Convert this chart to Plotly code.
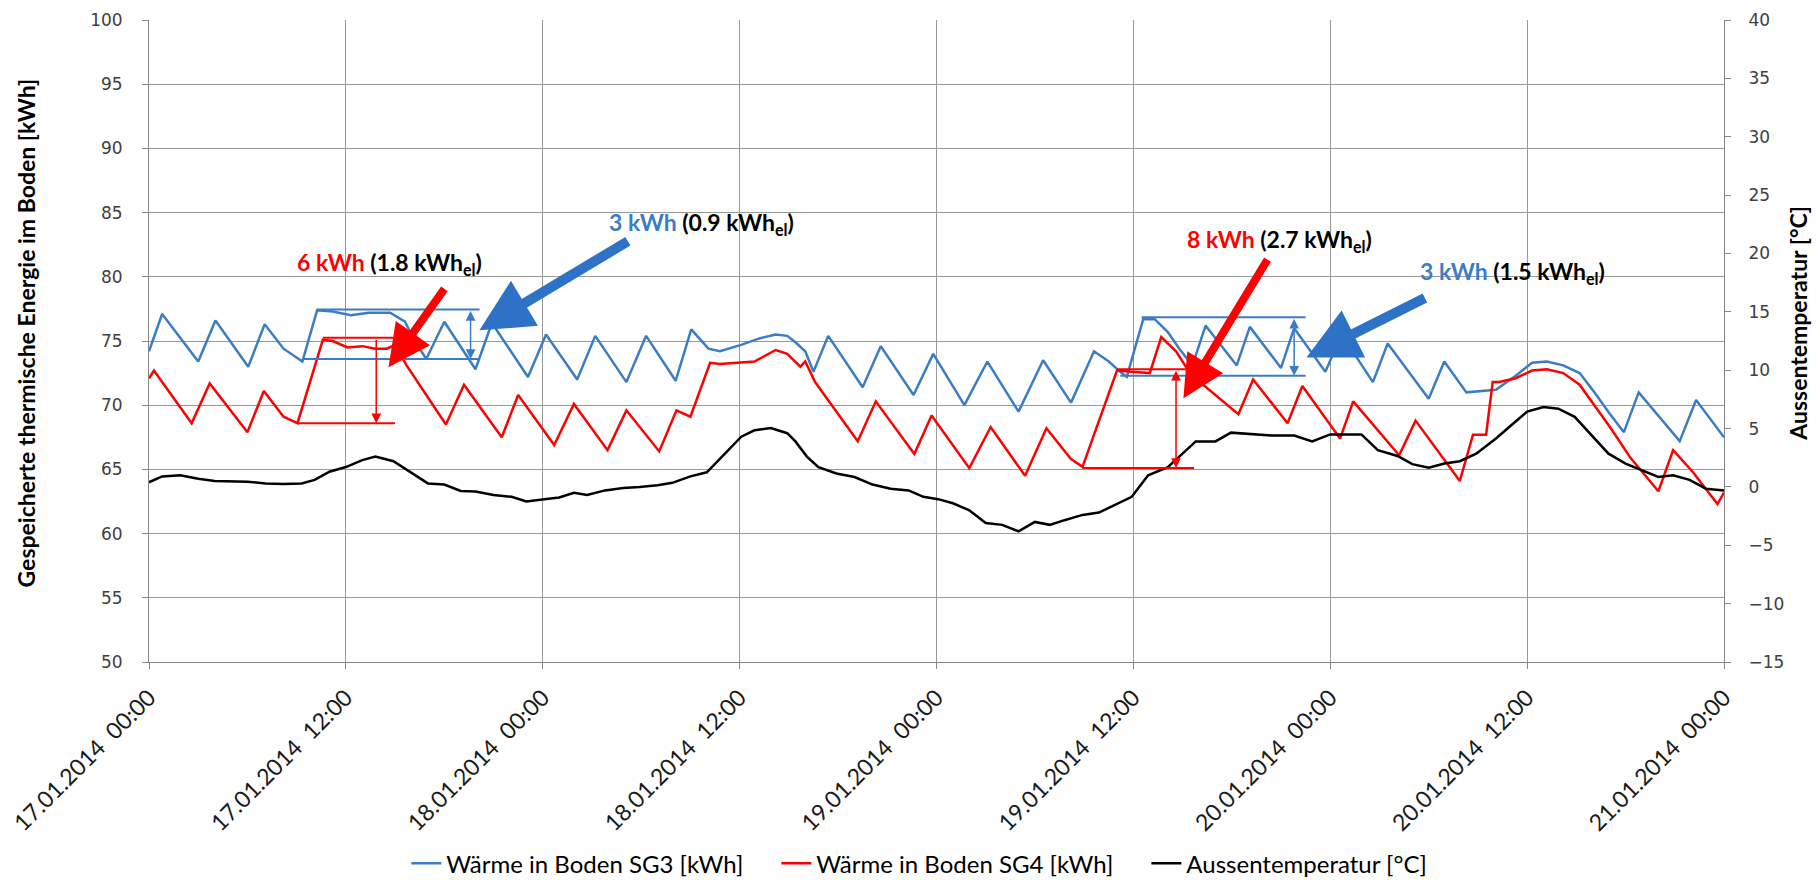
import pandas as pd
import plotly.graph_objects as go

START = pd.Timestamp("2014-01-17 00:00")

# Wärme in Boden SG3 [kWh]: hours since 17.01.2014 00:00 and stored energy
sg3_hours = [0, 0.8, 3.0, 4.05, 6.05, 7.05, 8.2, 9.35, 10.25, 11.2, 12.3, 13.4, 14.7,
             15.6, 16.2, 16.9, 18.0, 19.9, 20.9, 23.1, 24.2, 26.1, 27.2, 29.1, 30.3,
             32.1, 33.05, 34.1, 34.8, 36.1, 37.2, 38.2, 38.9, 39.4, 40.0, 40.5, 41.4,
             43.5, 44.6, 46.6, 47.8, 49.7, 51.1, 53.0, 54.5, 56.2, 57.6, 58.5, 59.2,
             59.6, 60.6, 61.3, 62.1, 62.8, 63.6, 64.4, 66.3, 67.1, 69.0, 69.8, 71.7,
             72.7, 74.6, 75.5, 78.0, 78.95, 80.3, 81.1, 82.1, 83.3, 84.3, 85.2, 86.2,
             87.2, 88.1, 89.0, 89.9, 90.8, 93.3, 94.3, 96.0]
sg3_kwh = [74.2, 77.1, 73.4, 76.6, 73.0, 76.3, 74.4, 73.4, 77.4, 77.3, 77.0, 77.2, 77.2,
           76.5, 75.0, 73.6, 76.5, 72.8, 76.4, 72.2, 75.5, 72.0, 75.4, 71.8, 75.4,
           71.9, 75.9, 74.4, 74.2, 74.7, 75.2, 75.5, 75.4, 74.9, 74.2, 72.6, 75.4,
           71.4, 74.6, 70.8, 74.0, 70.0, 73.4, 69.5, 73.5, 70.2, 74.2, 73.4, 72.6,
           72.2, 76.7, 76.7, 75.7, 74.4, 73.1, 76.2, 73.1, 76.1, 72.9, 76.0, 72.6,
           75.5, 71.8, 74.8, 70.5, 73.4, 71.0, 71.1, 71.2, 72.3, 73.3, 73.4, 73.1,
           72.5, 71.0, 69.4, 67.9, 71.0, 67.2, 70.4, 67.5]

# Wärme in Boden SG4 [kWh]
sg4_hours = [0, 0.3, 2.6, 3.7, 6.0, 7.0, 8.2, 9.05, 10.6, 11.2, 12.1, 13.0, 13.8, 14.5,
             15.0, 15.7, 18.1, 19.2, 21.5, 22.5, 24.7, 25.9, 27.95, 29.1, 31.1, 32.15,
             33.0, 34.2, 34.8, 35.8, 36.9, 38.2, 38.9, 39.7, 40.0, 40.6, 43.2, 44.3,
             46.65, 47.7, 50.0, 51.3, 53.4, 54.7, 56.2, 56.9, 59.0, 59.9, 61.0, 61.7,
             62.6, 63.5, 66.4, 67.3, 69.4, 70.3, 72.6, 73.4, 76.2, 77.2, 79.9, 80.7,
             81.5, 81.9, 82.3, 83.3, 84.3, 85.2, 86.2, 87.2, 88.1, 89.1, 90.3, 92.0,
             92.9, 94.1, 95.6, 96.0]
sg4_kwh = [72.1, 72.7, 68.6, 71.7, 67.9, 71.1, 69.1, 68.6, 75.1, 75.0, 74.5, 74.6, 74.4, 74.4,
           74.7, 73.1, 68.5, 71.6, 67.5, 70.8, 66.9, 70.1, 66.5, 69.6, 66.4, 69.6,
           69.1, 73.3, 73.2, 73.3, 73.4, 74.3, 74.0, 73.0, 73.4, 71.8, 67.2, 70.3,
           66.2, 69.2, 65.1, 68.3, 64.5, 68.2, 65.8, 65.2, 72.7, 72.6, 72.5, 75.3,
           74.2, 72.4, 69.3, 72.0, 68.6, 71.5, 67.4, 70.3, 66.1, 68.8, 64.1, 67.7,
           67.7, 71.8, 71.8, 72.1, 72.7, 72.8, 72.5, 71.6, 70.0, 68.2, 65.9, 63.3,
           66.5, 64.8, 62.3, 63.2]

# Aussentemperatur [°C]
temp_hours = [0, 0.8, 1.9, 3.0, 4.0, 6.0, 7.1, 8.2, 9.3, 10.1, 11.0, 12.0, 13.0, 13.8,
              14.9, 16.0, 17.0, 18.0, 19.0, 19.9, 21.0, 22.1, 23.0, 24.1, 25.0, 25.9,
              26.7, 27.8, 28.9, 29.9, 31.0, 31.9, 33.0, 34.0, 35.0, 36.1, 36.9, 37.9,
              38.9, 39.4, 40.1, 40.8, 41.9, 43.0, 44.1, 45.2, 46.3, 47.2, 48.1, 49.0,
              50.0, 51.0, 52.0, 53.0, 54.0, 54.9, 55.8, 56.9, 57.9, 58.9, 59.9, 60.9,
              62.1, 63.8, 65.0, 65.95, 67.2, 68.4, 69.8, 70.9, 72.0, 72.9, 73.9, 74.9,
              76.1, 77.0, 78.0, 78.96, 79.9, 80.9, 82.1, 83.3, 84.0, 85.0, 85.9, 86.9,
              87.9, 88.96, 90.0, 91.0, 92.0, 92.9, 93.9, 94.9, 96.0]
temp_c = [0.4, 0.9, 1.0, 0.7, 0.5, 0.45, 0.3, 0.25, 0.3, 0.6, 1.3, 1.7, 2.3, 2.6,
          2.2, 1.2, 0.3, 0.2, -0.35, -0.4, -0.7, -0.85, -1.25, -1.05, -0.9, -0.5,
          -0.7, -0.3, -0.1, 0.0, 0.15, 0.35, 0.9, 1.25, 2.7, 4.3, 4.85, 5.05,
          4.6, 3.9, 2.6, 1.7, 1.15, 0.85, 0.2, -0.15, -0.3, -0.85, -1.05, -1.4,
          -2.0, -3.1, -3.25, -3.8, -3.0, -3.25, -2.85, -2.4, -2.2, -1.55, -0.85, 1.0,
          1.7, 3.9, 3.9, 4.65, 4.5, 4.4, 4.4, 3.9, 4.5, 4.5, 4.5, 3.15,
          2.65, 1.95, 1.65, 2.0, 2.2, 2.85, 4.15, 5.6, 6.45, 6.85, 6.7, 6.0,
          4.45, 2.85, 2.0, 1.45, 0.85, 1.0, 0.6, -0.15, -0.3]

BLUE = "#3b7dc4"
RED = "#ff0000"
ARROW_BLUE = "#2e72c8"
GRID = "#9a9a9a"
AXIS = "#868686"
TXT = "Lato"


def at(h):
    return START + pd.Timedelta(hours=h)


def times(hours):
    return [at(h) for h in hours]


fig = go.Figure()
fig.add_trace(go.Scatter(x=times(sg3_hours), y=sg3_kwh, mode="lines",
                         name="Wärme in Boden SG3 [kWh]",
                         line=dict(color=BLUE, width=2.5)))
fig.add_trace(go.Scatter(x=times(sg4_hours), y=sg4_kwh, mode="lines",
                         name="Wärme in Boden SG4 [kWh]",
                         line=dict(color=RED, width=2.5)))
fig.add_trace(go.Scatter(x=times(temp_hours), y=temp_c, mode="lines",
                         name="Aussentemperatur [°C]", yaxis="y2",
                         line=dict(color="black", width=2.5)))

# storage brackets: horizontal limits of each charging period
brackets = [
    # (start h, end h, level kWh, colour)
    (10.25, 20.15, 77.45, BLUE), (9.35, 20.15, 73.6, BLUE),
    (10.6, 14.9, 75.25, RED), (9.05, 15.0, 68.6, RED),
    (60.5, 70.5, 76.85, BLUE), (59.2, 70.5, 72.3, BLUE),
    (59.0, 63.2, 72.8, RED), (56.9, 63.7, 65.1, RED),
]
for h0, h1, lvl, col in brackets:
    fig.add_shape(type="line", xref="x", yref="y", x0=at(h0), x1=at(h1),
                  y0=lvl, y1=lvl, line=dict(color=col, width=2))

annotations = []

# thin span arrows between bracket limits
spans = [
    (19.6, 73.6, 77.45, BLUE, "end+start"),
    (13.85, 68.6, 75.2, RED, "end"),
    (69.8, 72.3, 76.85, BLUE, "end+start"),
    (62.6, 65.1, 72.8, RED, "end+start"),
]
for h, lo, hi, col, side in spans:
    annotations.append(dict(x=at(h), y=lo, ax=at(h), ay=hi, xref="x", yref="y",
                            axref="x", ayref="y", text="", showarrow=True,
                            arrowhead=2, arrowsize=1.3, arrowwidth=1.5,
                            arrowcolor=col, arrowside=side))

# thick pointer arrows (head h, head kWh, tail h, tail kWh)
pointers = [
    (14.6, 72.95, 18.07, 79.18, RED, 8),
    (20.14, 75.83, 29.28, 82.84, ARROW_BLUE, 10),
    (63.05, 70.55, 68.23, 81.45, RED, 8),
    (70.55, 73.72, 77.86, 78.4, ARROW_BLUE, 10),
]
for hx, hy, tx, ty, col, w in pointers:
    annotations.append(dict(x=at(hx), y=hy, ax=at(tx), ay=ty, xref="x", yref="y",
                            axref="x", ayref="y", text="", showarrow=True,
                            arrowhead=2, arrowsize=1.05, arrowwidth=w,
                            arrowcolor=col))

labels = [
    (14.65, 81.05, RED, "6 kWh", "1.8"),
    (33.7, 84.16, BLUE, "3 kWh", "0.9"),
    (68.9, 82.84, RED, "8 kWh", "2.7"),
    (83.1, 80.35, BLUE, "3 kWh", "1.5"),
]
for h, lvl, col, heat, el in labels:
    annotations.append(dict(
        x=at(h), y=lvl, xref="x", yref="y", xanchor="center", yanchor="middle",
        showarrow=False,
        text=(f"<b><span style='color:{col}'>{heat}</span> "
              f"({el} kWh<sub>el</sub>)</b>"),
        font=dict(family=TXT, size=23, color="black")))

# axis titles
annotations.append(dict(x=-0.078, y=0.512, xref="paper", yref="paper",
                        xanchor="center", yanchor="middle",
                        text="<b>Gespeicherte thermische Energie im Boden [kWh]</b>",
                        textangle=-90, showarrow=False,
                        font=dict(family=TXT, size=23, color="black")))
annotations.append(dict(x=1.047, y=0.527, xref="paper", yref="paper",
                        xanchor="center", yanchor="middle",
                        text="<b>Aussentemperatur [°C]</b>",
                        textangle=-90, showarrow=False,
                        font=dict(family=TXT, size=23, color="black")))

fig.update_layout(
    width=1820, height=880,
    margin=dict(l=149, r=96, t=20, b=218, autoexpand=False),
    plot_bgcolor="white", paper_bgcolor="white",
    annotations=annotations,
    showlegend=True,
    legend=dict(orientation="h", x=0.1634, xanchor="left", y=-0.314,
                yanchor="middle", entrywidth=325, entrywidthmode="pixels",
                font=dict(family=TXT, size=24, color="black"),
                bgcolor="rgba(0,0,0,0)"),
    xaxis=dict(type="date", range=[at(0), at(96)], tick0=at(0), dtick=12 * 3600 * 1000,
               tickformat="%d.%m.%Y\u00a0 %H:%M", tickangle=-45,
               tickfont=dict(family=TXT, size=23, color="#1a1a1a"),
               showgrid=True, gridcolor=GRID, gridwidth=1,
               showline=True, linecolor=AXIS, linewidth=1,
               ticks="outside", ticklen=6, tickcolor=AXIS,
               zeroline=False, ticklabelstandoff=6),
    yaxis=dict(range=[50, 100], dtick=5, tick0=50,
               tickfont=dict(family="DejaVu Sans", size=17, color="#404040"),
               showgrid=True, gridcolor=GRID, gridwidth=1,
               showline=True, linecolor=AXIS, linewidth=1,
               ticks="outside", ticklen=6, tickcolor=AXIS,
               zeroline=False, ticklabelstandoff=16),
    yaxis2=dict(range=[-15, 40], dtick=5, tick0=-15, overlaying="y", side="right",
                tickfont=dict(family="DejaVu Sans", size=17, color="#404040"),
                showgrid=False, showline=True, linecolor=AXIS, linewidth=1,
                ticks="outside", ticklen=6, tickcolor=AXIS,
                zeroline=False, ticklabelstandoff=14),
)

fig.write_html("out.html")
